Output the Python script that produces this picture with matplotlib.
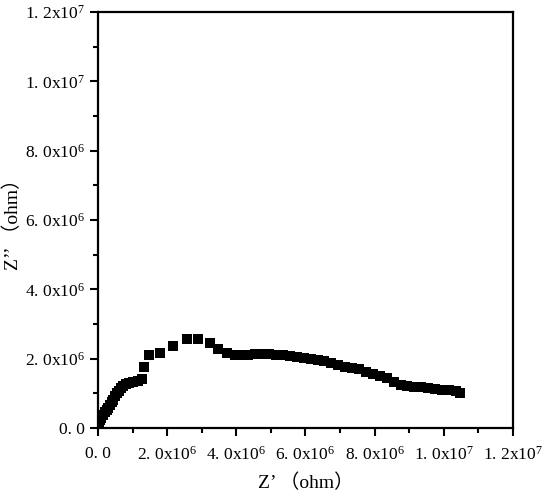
import matplotlib
matplotlib.use("Agg")
import matplotlib.pyplot as plt
from matplotlib.ticker import MultipleLocator, FuncFormatter

# Nyquist data (units of 1e6 ohm)
z_real = [0.0, 0.01, 0.03, 0.06, 0.10, 0.15, 0.20, 0.25, 0.30, 0.35, 0.40, 0.44, 0.49,
          0.54, 0.60, 0.66, 0.73, 0.81, 0.91, 1.02, 1.15, 1.28, 1.34, 1.47, 1.79,
          2.18, 2.56, 2.90, 3.24, 3.48, 3.72, 3.95, 4.15, 4.35, 4.55, 4.75, 4.95,
          5.15, 5.35, 5.55, 5.75, 5.95, 6.15, 6.35, 6.55, 6.75, 6.95, 7.15, 7.35,
          7.55, 7.75, 7.95, 8.15, 8.35, 8.55, 8.75, 8.95, 9.15, 9.35, 9.55, 9.75,
          9.95, 10.15, 10.35, 10.48]
z_imag = [0.0, 0.08, 0.14, 0.23, 0.30, 0.37, 0.45, 0.52, 0.59, 0.66, 0.74, 0.81, 0.91,
          1.00, 1.07, 1.14, 1.20, 1.26, 1.30, 1.32, 1.36, 1.40, 1.77, 2.10, 2.17,
          2.37, 2.56, 2.56, 2.44, 2.27, 2.15, 2.12, 2.11, 2.12, 2.13, 2.13, 2.13,
          2.12, 2.10, 2.08, 2.05, 2.02, 1.99, 1.96, 1.92, 1.88, 1.82, 1.77, 1.73,
          1.69, 1.63, 1.56, 1.50, 1.44, 1.32, 1.24, 1.20, 1.18, 1.17, 1.15, 1.13,
          1.11, 1.09, 1.06, 1.02]

plt.rcParams['font.family'] = ['Liberation Serif', 'Noto Sans CJK SC']
plt.rcParams['mathtext.fontset'] = 'custom'
plt.rcParams['mathtext.rm'] = 'Liberation Serif'
plt.rcParams['mathtext.it'] = 'Liberation Serif'


def sci_fmt(v, pos):
    if v == 0:
        return "0. 0"
    e = 0
    m = v
    while abs(m) >= 10:
        m /= 10
        e += 1
    s = "%.1f" % m
    return s.replace(".", ". ") + "x10$^{%d}$" % e


fig = plt.figure(figsize=(5.48, 5.01), dpi=100)
ax = fig.add_axes([0.1788, 0.1457, 0.7572, 0.8303])

x = [v * 1e6 for v in z_real]
y = [v * 1e6 for v in z_imag]
ax.plot(x, y, 's', color='black', markersize=7.2, markeredgewidth=0)

ax.set_xlim(0, 1.2e7)
ax.set_ylim(0, 1.2e7)
for a in (ax.xaxis, ax.yaxis):
    a.set_major_locator(MultipleLocator(2e6))
    a.set_minor_locator(MultipleLocator(1e6))
    a.set_major_formatter(FuncFormatter(sci_fmt))

ax.tick_params(which='major', direction='out', length=6, width=1.5, labelsize=12.5)
ax.tick_params(axis='x', which='major', pad=7)
ax.tick_params(which='minor', direction='out', length=3.5, width=1.5)
for s in ax.spines.values():
    s.set_linewidth(1.6)

ax.set_xlabel("Z’ （ohm）", fontsize=14, labelpad=7)
ax.set_ylabel("Z’’ （ohm）", fontsize=14, labelpad=2)

fig.savefig("out.png", dpi=100)
